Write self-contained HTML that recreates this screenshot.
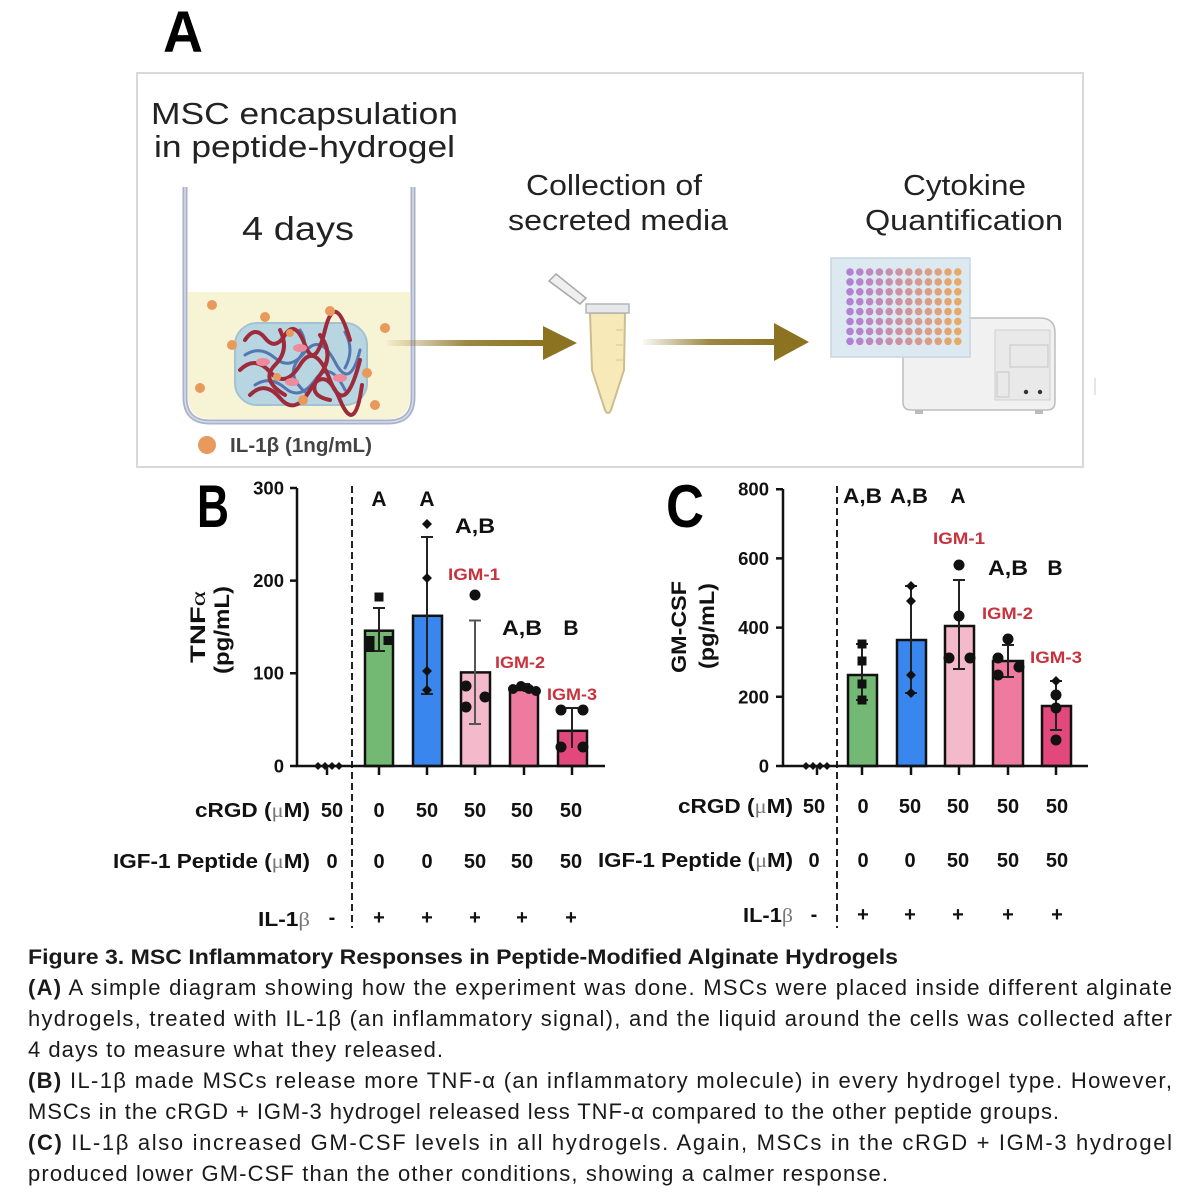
<!DOCTYPE html>
<html><head><meta charset="utf-8"><style>
html,body{margin:0;padding:0;background:#fff;}
svg{display:block;}
text{font-family:"Liberation Sans",sans-serif;}
</style></head><body>
<svg width="1200" height="1200" viewBox="0 0 1200 1200" xmlns="http://www.w3.org/2000/svg">
<defs>
<linearGradient id="g1" x1="387" y1="0" x2="545" y2="0" gradientUnits="userSpaceOnUse">
<stop offset="0" stop-color="#8c7322" stop-opacity="0.05"/><stop offset="0.5" stop-color="#8c7322" stop-opacity="0.85"/><stop offset="1" stop-color="#8c7322"/></linearGradient>
<linearGradient id="g2" x1="643" y1="0" x2="776" y2="0" gradientUnits="userSpaceOnUse">
<stop offset="0" stop-color="#8c7322" stop-opacity="0.05"/><stop offset="0.5" stop-color="#8c7322" stop-opacity="0.85"/><stop offset="1" stop-color="#8c7322"/></linearGradient>
</defs>
<rect width="1200" height="1200" fill="#fff"/>

<!-- Panel A -->
<text x="163" y="52" font-size="58" font-weight="bold" fill="#000" textLength="40" lengthAdjust="spacingAndGlyphs">A</text>
<rect x="137" y="73" width="946" height="394" fill="#fff" stroke="#d9d9d9" stroke-width="2"/>

<text x="151" y="124" font-size="31" fill="#222" textLength="307" lengthAdjust="spacingAndGlyphs">MSC encapsulation</text>
<text x="154" y="157" font-size="31" fill="#222" textLength="301" lengthAdjust="spacingAndGlyphs">in peptide-hydrogel</text>
<text x="242" y="240" font-size="33" fill="#222" textLength="112" lengthAdjust="spacingAndGlyphs">4 days</text>
<text x="526" y="195" font-size="29" fill="#222" textLength="176" lengthAdjust="spacingAndGlyphs">Collection of</text>
<text x="508" y="230" font-size="29" fill="#222" textLength="220" lengthAdjust="spacingAndGlyphs">secreted media</text>
<text x="903" y="195" font-size="29" fill="#222" textLength="123" lengthAdjust="spacingAndGlyphs">Cytokine</text>
<text x="865" y="230" font-size="29" fill="#222" textLength="198" lengthAdjust="spacingAndGlyphs">Quantification</text>

<!-- well -->
<path d="M188 292 H410 V396 Q410 419 387 419 H211 Q188 419 188 396 Z" fill="#f7f3d5"/>
<path d="M185 187 V397 Q185 422 210 422 H388 Q413 422 413 397 V187" stroke="#a9b2c9" stroke-width="5" fill="none"/>
<path d="M185 187 V397 Q185 422 210 422 H388 Q413 422 413 397 V187" stroke="#d6dbe8" stroke-width="1.5" fill="none"/>
<!-- hydrogel -->
<rect x="235" y="323" width="132" height="82" rx="22" fill="#b8d5e2" stroke="#a3c3d3" stroke-width="2"/>
<g fill="none" stroke-linecap="round">
<g stroke="#5577b0" stroke-width="3">
<path d="M245 355 Q260 345 275 358 T305 352 T335 362 T360 350"/>
<path d="M255 385 Q270 375 285 388 T315 380 T345 390"/>
<path d="M300 330 Q310 345 298 360 T305 392"/>
<path d="M345 332 Q355 350 345 368"/>
</g>
<g stroke="#9e2b3b" stroke-width="4">
<path d="M245 340 Q255 325 265 338 T285 335 T305 345 T325 330 T350 340"/>
<path d="M240 370 Q255 355 270 372 T300 365 T330 380 T360 360"/>
<path d="M250 395 Q265 380 280 398 T310 390 T340 400 T362 385"/>
<path d="M280 330 Q290 350 275 365 T285 395"/>
<path d="M320 335 Q335 355 320 375 T330 400"/>
</g>
</g>
<g fill="#ee8a9a"><ellipse cx="263" cy="362" rx="7" ry="4"/><ellipse cx="300" cy="348" rx="7" ry="4"/><ellipse cx="340" cy="378" rx="7" ry="4"/><ellipse cx="292" cy="382" rx="7" ry="4"/></g>
<g fill="#e89a5c">
<circle cx="212" cy="305" r="5"/><circle cx="265" cy="317" r="5"/><circle cx="330" cy="311" r="5"/><circle cx="385" cy="328" r="5"/>
<circle cx="232" cy="345" r="5"/><circle cx="290" cy="333" r="4"/><circle cx="367" cy="373" r="5"/><circle cx="200" cy="388" r="5"/>
<circle cx="277" cy="377" r="4"/><circle cx="303" cy="400" r="5"/><circle cx="375" cy="405" r="5"/>
</g>
<circle cx="207" cy="445" r="9" fill="#e89a5c"/>
<text x="230" y="452" font-size="20" font-weight="bold" fill="#444" textLength="142" lengthAdjust="spacingAndGlyphs">IL-1β (1ng/mL)</text>

<!-- arrow 1 -->
<rect x="387" y="340" width="158" height="6" fill="url(#g1)"/>
<polygon points="543,326 577,343 543,360" fill="#8c7322"/>
<!-- tube -->
<path d="M549 281 L556 274 L586 298 L580 304 Z" fill="#efefef" stroke="#a8a8a8" stroke-width="1.5"/>
<path d="M590 313 L625 313 L624 370 L611 410 Q608 416 605 410 L592 370 Z" fill="#f7e9b8" stroke="#cbbd90" stroke-width="2"/>
<rect x="586" y="304" width="43" height="9" fill="#e6e9ec" stroke="#b5b5b5" stroke-width="1.5"/>
<g stroke="#d6c79a" stroke-width="1"><path d="M616 330H623 M616 345H623 M616 360H623"/></g>
<!-- arrow 2 -->
<rect x="643" y="339" width="133" height="6" fill="url(#g2)"/>
<polygon points="774,323 809,342 774,361" fill="#8c7322"/>
<!-- reader -->
<path d="M903 333 Q903 318 918 318 H1040 Q1055 318 1055 333 V402 Q1055 410 1047 410 H911 Q903 410 903 402 Z" fill="#f1f1f1" stroke="#bdbdbd" stroke-width="1.5"/>
<path d="M995 330 H1050 V400 H995 Z" fill="#e9e9e9" stroke="#cfcfcf" stroke-width="1"/>
<rect x="1010" y="345" width="38" height="22" fill="none" stroke="#c8c8c8" stroke-width="1"/>
<rect x="997" y="372" width="12" height="25" fill="none" stroke="#c8c8c8" stroke-width="1"/>
<circle cx="1026" cy="392" r="2.2" fill="#333"/><circle cx="1040" cy="392" r="2.2" fill="#333"/>
<rect x="915" y="410" width="8" height="4" fill="#bbb"/><rect x="1035" y="410" width="8" height="4" fill="#bbb"/>
<line x1="1095" y1="378" x2="1095" y2="395" stroke="#ddd" stroke-width="1.5"/>
<!-- plate -->
<rect x="831" y="258" width="139" height="99" fill="#dce9f0" stroke="#c6d6e0" stroke-width="1.5"/>
<g stroke-width="7.6" stroke-dasharray="0 9.9" stroke-linecap="round">
<line x1="850" y1="272" x2="850" y2="343" stroke="#b47fd6"/>
<line x1="859.8" y1="272" x2="859.8" y2="343" stroke="#b983cc"/>
<line x1="869.6" y1="272" x2="869.6" y2="343" stroke="#be87c2"/>
<line x1="879.4" y1="272" x2="879.4" y2="343" stroke="#c28ab8"/>
<line x1="889.2" y1="272" x2="889.2" y2="343" stroke="#c78ead"/>
<line x1="899" y1="272" x2="899" y2="343" stroke="#cc92a3"/>
<line x1="908.8" y1="272" x2="908.8" y2="343" stroke="#d19699"/>
<line x1="918.6" y1="272" x2="918.6" y2="343" stroke="#d69a8f"/>
<line x1="928.4" y1="272" x2="928.4" y2="343" stroke="#da9d85"/>
<line x1="938.2" y1="272" x2="938.2" y2="343" stroke="#dfa17a"/>
<line x1="948" y1="272" x2="948" y2="343" stroke="#e4a570"/>
<line x1="957.8" y1="272" x2="957.8" y2="343" stroke="#e9a966"/>
</g>

<!-- Panel B -->
<text x="197" y="527" font-size="60" font-weight="bold" fill="#000" textLength="32" lengthAdjust="spacingAndGlyphs">B</text>
<g font-size="18.5" font-weight="bold" fill="#111" text-anchor="end">
<text x="284" y="494.5">300</text><text x="284" y="587">200</text><text x="284" y="679.5">100</text><text x="284" y="772.5">0</text>
</g>
<text transform="translate(205,627) rotate(-90)" text-anchor="middle" font-size="21" font-weight="bold" fill="#111" textLength="72" lengthAdjust="spacingAndGlyphs">TNF<tspan font-family="Liberation Serif" font-weight="normal">α</tspan></text>
<text transform="translate(229,630) rotate(-90)" text-anchor="middle" font-size="21" font-weight="bold" fill="#111" textLength="88" lengthAdjust="spacingAndGlyphs">(pg/mL)</text>
<line x1="352" y1="486" x2="352" y2="928" stroke="#222" stroke-width="2" stroke-dasharray="7 4"/>
<g stroke="#111" stroke-width="2.5">
<rect x="365" y="630.7" width="28" height="135.3" fill="#74b973"/>
<rect x="413" y="615.8" width="29" height="150.2" fill="#3a86ef"/>
<rect x="461" y="672.4" width="29" height="93.6" fill="#f5b9cc"/>
<rect x="510" y="690" width="28" height="76" fill="#ee7aa0"/>
<rect x="558" y="730.8" width="29" height="35.2" fill="#e2487c"/>
</g>
<g stroke="#111" stroke-width="2.5" fill="none">
<path d="M297 488 V766 H605"/>
<path d="M290 488H297 M290 580.6H297 M290 673.3H297 M290 766H297"/>
<path d="M327 766V775 M379 766V775 M427 766V775 M475 766V775 M524 766V775 M572 766V775"/>
</g>
<g stroke="#222" stroke-width="2" fill="none">
<path d="M379 651V608 M373 608H385 M373 651H385"/>
<path d="M427 694V537 M421 537H433 M421 694H433"/>
<path d="M475 724V620.5 M469 620.5H481 M469 724H481" stroke="#555"/>
<path d="M524 692V684 M518 684H530"/>
<path d="M572 748V708 M566 708H578"/>
<path d="M327 766V770"/>
</g>
<g fill="#111">
<rect x="374.5" y="592.5" width="9" height="9"/>
<rect x="365.5" y="636" width="9" height="9"/><rect x="383.5" y="636" width="9" height="9"/><rect x="365.5" y="643" width="9" height="9"/>
<path d="M427 519l5 5l-5 5l-5-5z M427 573l5 5l-5 5l-5-5z M427 666l5 5l-5 5l-5-5z M427 685l5 5l-5 5l-5-5z"/>
<circle cx="475" cy="595" r="5.5"/><circle cx="466" cy="686" r="5.5"/><circle cx="485" cy="697" r="5.5"/><circle cx="466" cy="707" r="5.5"/>
<circle cx="513" cy="689" r="5"/><circle cx="521" cy="686" r="5"/><circle cx="529" cy="689" r="5"/><circle cx="536" cy="691" r="5"/>
<circle cx="561" cy="710" r="5.5"/><circle cx="583" cy="710" r="5.5"/><circle cx="561" cy="747" r="5.5"/><circle cx="583" cy="747" r="5.5"/>
<path d="M318 762l4 4l-4 4l-4-4z M325 762l4 4l-4 4l-4-4z M332 762l4 4l-4 4l-4-4z M339 762l4 4l-4 4l-4-4z"/>
</g>
<g font-size="21" font-weight="bold" fill="#111">
<text x="379" y="506" text-anchor="middle">A</text>
<text x="427" y="506" text-anchor="middle">A</text>
<text x="455" y="533" textLength="40" lengthAdjust="spacingAndGlyphs">A,B</text>
<text x="502" y="635" textLength="40" lengthAdjust="spacingAndGlyphs">A,B</text>
<text x="571" y="635" text-anchor="middle">B</text>
</g>
<g font-size="17" font-weight="bold" fill="#c8323c">
<text x="448" y="580" textLength="52" lengthAdjust="spacingAndGlyphs">IGM-1</text>
<text x="495" y="668" textLength="50" lengthAdjust="spacingAndGlyphs">IGM-2</text>
<text x="547" y="700" textLength="50" lengthAdjust="spacingAndGlyphs">IGM-3</text>
</g>
<g font-size="20" font-weight="bold" fill="#111">
<text x="310" y="817" text-anchor="end" textLength="115" lengthAdjust="spacingAndGlyphs">cRGD (<tspan font-family="Liberation Serif" font-weight="normal" fill="#777">μ</tspan>M)</text>
<text x="310" y="868" text-anchor="end" textLength="197" lengthAdjust="spacingAndGlyphs">IGF-1 Peptide (<tspan font-family="Liberation Serif" font-weight="normal" fill="#777">μ</tspan>M)</text>
<text x="310" y="926" text-anchor="end" textLength="52" lengthAdjust="spacingAndGlyphs">IL-1<tspan font-family="Liberation Serif" font-weight="normal" fill="#777">β</tspan></text>
</g>
<g font-size="20" font-weight="bold" fill="#111" text-anchor="middle">
<text x="332" y="817">50</text><text x="379" y="817">0</text><text x="427" y="817">50</text><text x="475" y="817">50</text><text x="522" y="817">50</text><text x="571" y="817">50</text>
<text x="332" y="868">0</text><text x="379" y="868">0</text><text x="427" y="868">0</text><text x="475" y="868">50</text><text x="522" y="868">50</text><text x="571" y="868">50</text>
<text x="332" y="924">-</text><text x="379" y="924">+</text><text x="427" y="924">+</text><text x="475" y="924">+</text><text x="522" y="924">+</text><text x="571" y="924">+</text>
</g>

<!-- Panel C -->
<text x="666" y="527" font-size="60" font-weight="bold" fill="#000" textLength="38" lengthAdjust="spacingAndGlyphs">C</text>
<g font-size="18.5" font-weight="bold" fill="#111" text-anchor="end">
<text x="769" y="495.7">800</text><text x="769" y="564.9">600</text><text x="769" y="634.1">400</text><text x="769" y="703.3">200</text><text x="769" y="772.5">0</text>
</g>
<text transform="translate(686,627) rotate(-90)" text-anchor="middle" font-size="21" font-weight="bold" fill="#111" textLength="92" lengthAdjust="spacingAndGlyphs">GM-CSF</text>
<text transform="translate(714,626) rotate(-90)" text-anchor="middle" font-size="21" font-weight="bold" fill="#111" textLength="86" lengthAdjust="spacingAndGlyphs">(pg/mL)</text>
<line x1="837" y1="486" x2="837" y2="928" stroke="#222" stroke-width="2" stroke-dasharray="7 4"/>
<g stroke="#111" stroke-width="2.5">
<rect x="848" y="675" width="29" height="91" fill="#74b973"/>
<rect x="897" y="640" width="29" height="126" fill="#3a86ef"/>
<rect x="945" y="626" width="29" height="140" fill="#f5b9cc"/>
<rect x="993" y="661" width="30" height="105" fill="#ee7aa0"/>
<rect x="1042" y="706" width="29" height="60" fill="#e2487c"/>
</g>
<g stroke="#111" stroke-width="2.5" fill="none">
<path d="M783 489 V766 H1088"/>
<path d="M776 489.2H783 M776 558.4H783 M776 627.6H783 M776 696.8H783 M776 766H783"/>
<path d="M817 766V775 M862 766V775 M911 766V775 M959 766V775 M1008 766V775 M1056 766V775"/>
</g>
<g stroke="#222" stroke-width="2" fill="none">
<path d="M862 700V644 M856 644H868 M856 700H868"/>
<path d="M911 693V586 M905 586H917 M905 693H917"/>
<path d="M959 669V580 M953 580H965 M953 669H965"/>
<path d="M1008 677V645 M1002 645H1014 M1002 677H1014"/>
<path d="M1056 730V681 M1050 681H1062 M1050 730H1062"/>
<path d="M817 766V770"/>
</g>
<g fill="#111">
<rect x="857.5" y="639.5" width="9" height="9"/><rect x="857.5" y="656.5" width="9" height="9"/><rect x="857.5" y="679.5" width="9" height="9"/><rect x="857.5" y="695.5" width="9" height="9"/>
<path d="M911 581l5 5l-5 5l-5-5z M911 596l5 5l-5 5l-5-5z M911 670l5 5l-5 5l-5-5z M911 688l5 5l-5 5l-5-5z"/>
<circle cx="959" cy="565" r="5.5"/><circle cx="959" cy="616" r="5.5"/><circle cx="949" cy="658" r="5.5"/><circle cx="970" cy="658" r="5.5"/>
<circle cx="1008" cy="639" r="5.5"/><circle cx="998" cy="658" r="5.5"/><circle cx="1019" cy="667" r="5.5"/><circle cx="998" cy="675" r="5.5"/>
<path d="M1056 676l5 5l-5 5l-5-5z"/><circle cx="1056" cy="695" r="5.5"/><circle cx="1056" cy="708" r="5.5"/><circle cx="1056" cy="740" r="5.5"/>
<path d="M806 762l4 4l-4 4l-4-4z M813 762l4 4l-4 4l-4-4z M820 762l4 4l-4 4l-4-4z M827 762l4 4l-4 4l-4-4z"/>
</g>
<g font-size="21" font-weight="bold" fill="#111">
<text x="843" y="503" textLength="39" lengthAdjust="spacingAndGlyphs">A,B</text>
<text x="890" y="503" textLength="38" lengthAdjust="spacingAndGlyphs">A,B</text>
<text x="958" y="503" text-anchor="middle">A</text>
<text x="988" y="575" textLength="40" lengthAdjust="spacingAndGlyphs">A,B</text>
<text x="1055" y="575" text-anchor="middle">B</text>
</g>
<g font-size="17" font-weight="bold" fill="#c8323c">
<text x="933" y="544" textLength="52" lengthAdjust="spacingAndGlyphs">IGM-1</text>
<text x="982" y="619" textLength="51" lengthAdjust="spacingAndGlyphs">IGM-2</text>
<text x="1030" y="663" textLength="52" lengthAdjust="spacingAndGlyphs">IGM-3</text>
</g>
<g font-size="20" font-weight="bold" fill="#111">
<text x="793" y="813" text-anchor="end" textLength="115" lengthAdjust="spacingAndGlyphs">cRGD (<tspan font-family="Liberation Serif" font-weight="normal" fill="#777">μ</tspan>M)</text>
<text x="793" y="867" text-anchor="end" textLength="195" lengthAdjust="spacingAndGlyphs">IGF-1 Peptide (<tspan font-family="Liberation Serif" font-weight="normal" fill="#777">μ</tspan>M)</text>
<text x="793" y="922" text-anchor="end" textLength="50" lengthAdjust="spacingAndGlyphs">IL-1<tspan font-family="Liberation Serif" font-weight="normal" fill="#777">β</tspan></text>
</g>
<g font-size="20" font-weight="bold" fill="#111" text-anchor="middle">
<text x="814" y="813">50</text><text x="863" y="813">0</text><text x="910" y="813">50</text><text x="958" y="813">50</text><text x="1008" y="813">50</text><text x="1057" y="813">50</text>
<text x="814" y="867">0</text><text x="863" y="867">0</text><text x="910" y="867">0</text><text x="958" y="867">50</text><text x="1008" y="867">50</text><text x="1057" y="867">50</text>
<text x="814" y="921">-</text><text x="863" y="921">+</text><text x="910" y="921">+</text><text x="958" y="921">+</text><text x="1008" y="921">+</text><text x="1057" y="921">+</text>
</g>

<!-- Caption -->
<g font-size="22" fill="#1a1a1a">
<text x="28" y="964" font-weight="bold" font-size="21" textLength="870" lengthAdjust="spacingAndGlyphs">Figure 3. MSC Inflammatory Responses in Peptide-Modified Alginate Hydrogels</text>
<text x="28" y="995" textLength="1144" lengthAdjust="spacing"><tspan font-weight="bold">(A)</tspan> A simple diagram showing how the experiment was done. MSCs were placed inside different alginate</text>
<text x="28" y="1026" textLength="1144" lengthAdjust="spacing">hydrogels, treated with IL-1β (an inflammatory signal), and the liquid around the cells was collected after</text>
<text x="28" y="1057" textLength="415" lengthAdjust="spacing">4 days to measure what they released.</text>
<text x="28" y="1088" textLength="1144" lengthAdjust="spacing"><tspan font-weight="bold">(B)</tspan> IL-1β made MSCs release more TNF-α (an inflammatory molecule) in every hydrogel type. However,</text>
<text x="28" y="1119" textLength="1031" lengthAdjust="spacing">MSCs in the cRGD + IGM-3 hydrogel released less TNF-α compared to the other peptide groups.</text>
<text x="28" y="1150" textLength="1144" lengthAdjust="spacing"><tspan font-weight="bold">(C)</tspan> IL-1β also increased GM-CSF levels in all hydrogels. Again, MSCs in the cRGD + IGM-3 hydrogel</text>
<text x="28" y="1181" textLength="860" lengthAdjust="spacing">produced lower GM-CSF than the other conditions, showing a calmer response.</text>
</g>
</svg>
</body></html>
